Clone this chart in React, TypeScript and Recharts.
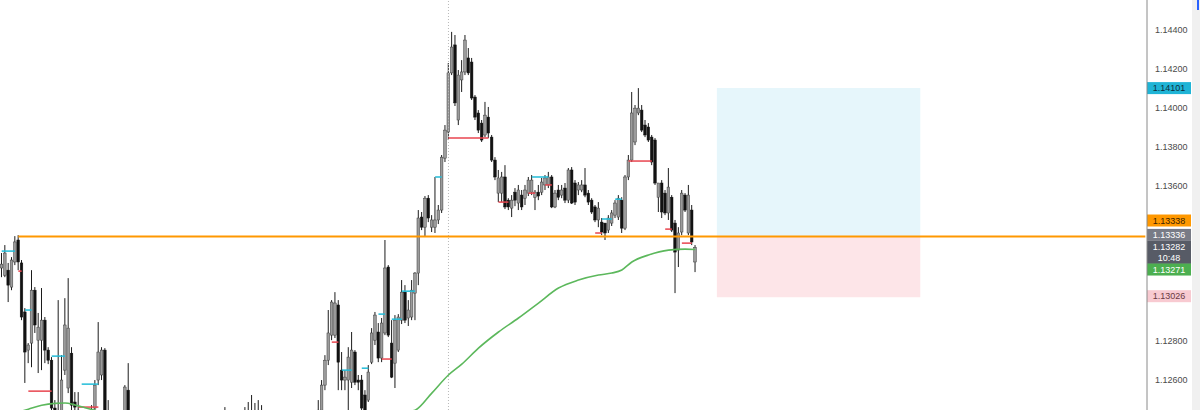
import React from 'react';
import { ComposedChart, Bar, Line, XAxis, YAxis, ReferenceLine, ReferenceArea } from 'recharts';

const OPEN = [
  1.13176,1.13139,1.13165,1.13078,1.13207,1.13320,1.13202,1.12950,1.12754,1.12790,
  1.13062,1.12805,1.12805,1.12908,1.12754,1.12702,1.12456,1.12368,1.12420,1.12651,
  1.12559,1.12738,1.12487,1.12445,1.12394,1.12342,1.12368,1.12404,1.12456,1.12600,
  1.12626,1.12754,1.12435,1.12342,1.12291,1.12317,1.12353,1.12394,1.12548,1.12368,
  1.12301,1.12266,1.12291,1.12240,1.12261,1.12214,1.12188,1.12230,1.12250,1.12214,
  1.12178,1.12137,1.12163,1.12127,1.12147,1.12111,1.12137,1.12178,1.12157,1.12199,
  1.12240,1.12214,1.12250,1.12281,1.12261,1.12291,1.12317,1.12342,1.12368,1.12332,
  1.12353,1.12312,1.12342,1.12384,1.12404,1.12435,1.12394,1.12425,1.12404,1.12363,
  1.12322,1.12291,1.12250,1.12271,1.12230,1.12199,1.12178,1.12157,1.12137,1.12168,
  1.12199,1.12230,1.12261,1.12291,1.12312,1.12342,1.12445,1.12574,1.12702,1.12831,
  1.12831,1.12986,1.12651,1.12600,1.12600,1.12589,1.12744,1.12600,1.12600,1.12523,
  1.12497,1.12692,1.12805,1.12847,1.12713,1.12842,1.13181,1.12790,1.12687,1.12754,
  1.12908,1.13052,1.12919,1.12924,1.13047,1.13150,1.13438,1.13386,1.13535,1.13386,
  1.13386,1.13423,1.13474,1.13741,1.13875,1.14179,1.14323,1.13937,1.14143,1.14184,
  1.14256,1.14235,1.14055,1.13973,1.13921,1.13860,1.13952,1.13849,1.13731,1.13561,
  1.13561,1.13644,1.13525,1.13484,1.13566,1.13510,1.13551,1.13535,1.13561,1.13566,
  1.13540,1.13566,1.13566,1.13603,1.13603,1.13644,1.13490,1.13577,1.13551,1.13587,
  1.13525,1.13680,1.13613,1.13577,1.13577,1.13603,1.13561,1.13525,1.13490,1.13423,
  1.13412,1.13407,1.13371,1.13407,1.13448,1.13438,1.13525,1.13381,1.13644,1.13731,
  1.13824,1.13973,1.13988,1.13911,1.13901,1.13849,1.13834,1.13540,1.13613,1.13561,
  1.13459,1.13540,1.13407,1.13268,1.13361,1.13551,1.13356,1.13474,1.13207,
];
const HIGH = [
  1.13253,1.13294,1.13202,1.13232,1.13340,1.13345,1.13217,1.12970,1.12790,1.13165,
  1.13078,1.12945,1.13073,1.12924,1.12769,1.12718,1.12497,1.13011,1.12728,1.13021,
  1.13124,1.12769,1.12538,1.12538,1.12435,1.12404,1.12445,1.12471,1.12600,1.12898,
  1.12769,1.12764,1.12497,1.12368,1.12353,1.12394,1.12420,1.12574,1.12687,1.12394,
  1.12332,1.12317,1.12312,1.12291,1.12281,1.12240,1.12266,1.12291,1.12271,1.12240,
  1.12199,1.12188,1.12178,1.12168,1.12163,1.12157,1.12199,1.12199,1.12230,1.12266,
  1.12261,1.12281,1.12312,1.12301,1.12332,1.12353,1.12384,1.12461,1.12394,1.12384,
  1.12373,1.12363,1.12404,1.12461,1.12487,1.12523,1.12482,1.12497,1.12471,1.12384,
  1.12342,1.12312,1.12291,1.12291,1.12250,1.12219,1.12199,1.12188,1.12199,1.12230,
  1.12250,1.12281,1.12312,1.12342,1.12363,1.12497,1.12600,1.12728,1.12960,1.13011,
  1.13052,1.13011,1.12744,1.12651,1.12769,1.12847,1.12754,1.12626,1.12626,1.12548,
  1.12677,1.12867,1.12950,1.12893,1.12919,1.13320,1.13191,1.12908,1.12934,1.12939,
  1.13114,1.13088,1.13011,1.13114,1.13155,1.13474,1.13464,1.13546,1.13551,1.13448,
  1.13644,1.13500,1.13757,1.13911,1.14230,1.14390,1.14374,1.14194,1.14245,1.14374,
  1.14307,1.14256,1.14065,1.13988,1.13937,1.14030,1.14004,1.13860,1.13746,1.13680,
  1.13670,1.13705,1.13535,1.13551,1.13587,1.13603,1.13577,1.13603,1.13644,1.13654,
  1.13577,1.13603,1.13639,1.13654,1.13670,1.13654,1.13577,1.13603,1.13603,1.13613,
  1.13690,1.13695,1.13628,1.13618,1.13628,1.13690,1.13577,1.13535,1.13500,1.13515,
  1.13433,1.13407,1.13448,1.13474,1.13525,1.13551,1.13540,1.13654,1.13757,1.14081,
  1.14014,1.14101,1.14014,1.13937,1.13921,1.13860,1.13844,1.13613,1.13628,1.13577,
  1.13690,1.13551,1.13423,1.13386,1.13577,1.13561,1.13603,1.13500,1.13294,
];
const LOW = [
  1.13129,1.13129,1.13001,1.13062,1.13191,1.13165,1.12908,1.12585,1.12687,1.12666,
  1.12842,1.12636,1.12651,1.12687,1.12682,1.12420,1.12291,1.12342,1.12394,1.12626,
  1.12533,1.12435,1.12394,1.12342,1.12291,1.12266,1.12317,1.12353,1.12435,1.12574,
  1.12600,1.12394,1.12317,1.12266,1.12240,1.12281,1.12317,1.12368,1.12342,1.12266,
  1.12230,1.12214,1.12199,1.12188,1.12178,1.12147,1.12157,1.12199,1.12178,1.12137,
  1.12106,1.12096,1.12085,1.12075,1.12060,1.12085,1.12116,1.12127,1.12137,1.12178,
  1.12188,1.12199,1.12230,1.12240,1.12240,1.12271,1.12291,1.12312,1.12301,1.12312,
  1.12281,1.12291,1.12322,1.12353,1.12373,1.12363,1.12368,1.12378,1.12342,1.12291,
  1.12261,1.12214,1.12230,1.12188,1.12163,1.12137,1.12127,1.12096,1.12111,1.12137,
  1.12178,1.12209,1.12240,1.12266,1.12291,1.12291,1.12420,1.12548,1.12677,1.12805,
  1.12816,1.12548,1.12548,1.12548,1.12445,1.12559,1.12574,1.12548,1.12435,1.12435,
  1.12487,1.12682,1.12780,1.12692,1.12692,1.12831,1.12821,1.12610,1.12559,1.12744,
  1.12888,1.12893,1.12878,1.12908,1.12908,1.13088,1.13371,1.13340,1.13412,1.13361,
  1.13356,1.13402,1.13459,1.13721,1.13834,1.14168,1.14009,1.13911,1.14081,1.14168,
  1.14168,1.14040,1.13937,1.13870,1.13824,1.13849,1.13844,1.13721,1.13628,1.13515,
  1.13515,1.13479,1.13474,1.13438,1.13494,1.13474,1.13474,1.13500,1.13546,1.13551,
  1.13474,1.13525,1.13551,1.13577,1.13587,1.13484,1.13484,1.13525,1.13535,1.13510,
  1.13510,1.13505,1.13500,1.13551,1.13566,1.13540,1.13500,1.13454,1.13412,1.13386,
  1.13345,1.13320,1.13356,1.13392,1.13433,1.13423,1.13356,1.13371,1.13628,1.13721,
  1.13808,1.13962,1.13875,1.13849,1.13824,1.13705,1.13603,1.13464,1.13433,1.13448,
  1.13423,1.13361,1.13047,1.13181,1.13345,1.13464,1.13345,1.13294,1.13155,
];
const CLOSE = [
  1.13196,1.13253,1.13088,1.13217,1.13310,1.13207,1.12924,1.12744,1.12780,1.13062,
  1.12883,1.12872,1.12908,1.12754,1.12702,1.12456,1.12368,1.12420,1.12600,1.12883,
  1.12867,1.12471,1.12461,1.12394,1.12342,1.12368,1.12404,1.12435,1.12574,1.12744,
  1.12754,1.12435,1.12342,1.12291,1.12317,1.12353,1.12394,1.12564,1.12368,1.12301,
  1.12266,1.12291,1.12240,1.12261,1.12214,1.12188,1.12230,1.12250,1.12214,1.12178,
  1.12137,1.12163,1.12127,1.12147,1.12111,1.12137,1.12178,1.12157,1.12199,1.12240,
  1.12214,1.12250,1.12281,1.12261,1.12291,1.12317,1.12342,1.12368,1.12332,1.12353,
  1.12312,1.12342,1.12384,1.12404,1.12435,1.12394,1.12425,1.12404,1.12363,1.12322,
  1.12291,1.12250,1.12271,1.12230,1.12199,1.12178,1.12157,1.12137,1.12168,1.12199,
  1.12230,1.12261,1.12291,1.12312,1.12342,1.12445,1.12574,1.12702,1.12842,1.13001,
  1.12996,1.12692,1.12600,1.12615,1.12718,1.12754,1.12589,1.12589,1.12456,1.12445,
  1.12641,1.12842,1.12934,1.12713,1.12893,1.13176,1.12831,1.12615,1.12908,1.12924,
  1.13052,1.12908,1.12960,1.13062,1.13150,1.13433,1.13386,1.13535,1.13433,1.13423,
  1.13423,1.13474,1.13746,1.13885,1.14179,1.14312,1.14025,1.14168,1.14184,1.14348,
  1.14179,1.14050,1.13952,1.13885,1.13834,1.13962,1.13870,1.13731,1.13644,1.13639,
  1.13644,1.13490,1.13490,1.13525,1.13525,1.13577,1.13490,1.13577,1.13628,1.13628,
  1.13566,1.13546,1.13618,1.13639,1.13644,1.13490,1.13561,1.13540,1.13577,1.13525,
  1.13680,1.13510,1.13515,1.13603,1.13603,1.13551,1.13515,1.13464,1.13423,1.13484,
  1.13361,1.13356,1.13433,1.13459,1.13510,1.13535,1.13381,1.13644,1.13731,1.13973,
  1.13998,1.13998,1.13885,1.13860,1.13834,1.13721,1.13613,1.13613,1.13464,1.13459,
  1.13592,1.13371,1.13258,1.13356,1.13561,1.13474,1.13551,1.13310,1.13282,
];

// moving average (green) — sparse readings, joined by the library's curve
const MA_INDEX = [0,4,8,12,16,19,22,25,28,32,38,45,60,80,100,115,121,124,129,134,138,143,149,155,161,167,173,179,183,186,189,194,200,205,208];
const MA_VALUE = [1.12410,1.12430,1.12450,1.12470,1.12480,1.12482,1.12472,1.12458,1.12444,1.12425,1.12395,1.12342,1.12266,1.12240,1.12291,1.12368,1.12435,1.12445,1.12533,1.12626,1.12682,1.12764,1.12847,1.12919,1.12996,1.13073,1.13114,1.13140,1.13150,1.13166,1.13207,1.13243,1.13268,1.13273,1.13271];

// step levels (cyan = up, red = down)
const STEP_FROM  = [0,5,7,8,15,24,23,99,102,108,113,114,117,120,130,134,149,158,159,163,178,180,184,188,199,204];
const STEP_TO    = [4,6,9,15,19,29,29,101,105,110,115,117,120,124,132,146,152,160,164,165,180,183,186,195,201,207];
const STEP_LEVEL = [1.13263,1.13160,1.12960,1.12543,1.12723,1.12579,1.12461,1.12795,1.12651,1.12661,1.12939,1.12708,1.12913,1.13057,1.13644,1.13844,1.13515,1.13561,1.13644,1.13603,1.13356,1.13428,1.13530,1.13726,1.13376,1.13304];
const STEP_KIND  = ['up','dn','up','dn','up','up','dn','dn','up','up','up','dn','up','up','up','dn','dn','dn','up','dn','dn','up','up','dn','dn','dn'];

const Y_TICKS = [1.126, 1.128, 1.136, 1.138, 1.140, 1.142, 1.144];
const Y_DOMAIN = [1.12446, 1.14554];

const HLINE_LEVEL = 1.13338;
const HLINE_START = 5;
const TARGET_LEVEL = 1.14101;
const STOP_LEVEL = 1.13026;
const BOX_FROM = 215;
const BOX_TO = 275;
const CURSOR_INDEX = 134;
const SLOTS = 344;

const TAG_VALUES = [1.14101, 1.13338, 1.13336, 1.13282, 1.13271, 1.13026];
const TAG_SUB = ['', '', '', '10:48', '', ''];

const TAG_STYLE = [
  { bg: '#1fb4d6', fg: '#0d2f3b', dy: 0, h: 12 },
  { bg: '#ff9800', fg: '#3b2200', dy: -16, h: 12 },
  { bg: '#787b86', fg: '#ffffff', dy: -2, h: 12 },
  { bg: '#575b66', fg: '#ffffff', dy: 5, h: 23 },
  { bg: '#4caf50', fg: '#ffffff', dy: 20, h: 12 },
  { bg: '#f8cad1', fg: '#6a3a42', dy: -1, h: 12 },
];

const FONT = '"Liberation Sans", Arial, sans-serif';

const data = Array.from({ length: SLOTS }, (_, i) => {
  const row: any = { i };
  if (i < OPEN.length) {
    row.o = OPEN[i];
    row.h = HIGH[i];
    row.l = LOW[i];
    row.c = CLOSE[i];
    row.range = [LOW[i], HIGH[i]];
  }
  const k = MA_INDEX.indexOf(i);
  if (k >= 0) row.ma = MA_VALUE[k];
  return row;
});

const Candle = (props: any) => {
  const { x, y, width, height, payload } = props;
  if (!payload || payload.o == null || !isFinite(y) || !isFinite(height)) return null;
  const { o, h, l, c } = payload;
  const top = Math.min(y, y + height);
  const hgt = Math.abs(height);
  const span = h - l;
  const k = span > 0 ? hgt / span : 0;
  const yOf = (v: number) => top + (h - v) * k;
  const cx = x + width / 2;
  const bTop = yOf(Math.max(o, c));
  const bBot = yOf(Math.min(o, c));
  const bull = c >= o;
  const bw = 2.6;
  return (
    <g>
      <line x1={cx} x2={cx} y1={top} y2={top + hgt} stroke="#1c1c1c" strokeWidth={1} />
      <rect
        x={cx - bw / 2}
        y={bTop}
        width={bw}
        height={Math.max(bBot - bTop, 0.9)}
        fill={bull ? '#9b9b9b' : '#121212'}
        stroke={bull ? '#3c3c3c' : '#121212'}
        strokeWidth={0.5}
      />
    </g>
  );
};

const PriceTag = (props: any) => {
  const { viewBox, idx } = props;
  if (!viewBox) return null;
  const st = TAG_STYLE[idx];
  const cy = viewBox.y + st.dy;
  const x0 = 1147;
  const w = 44;
  const top = cy - st.h / 2;
  return (
    <g>
      <rect x={x0} y={top} width={w} height={st.h} fill={st.bg} />
      <text x={x0 + w / 2} y={TAG_SUB[idx] ? top + 9 : cy + 3.2} textAnchor="middle" fontSize={9} fontFamily={FONT} fill={st.fg}>
        {TAG_VALUES[idx].toFixed(5)}
      </text>
      {TAG_SUB[idx] ? (
        <text x={x0 + w / 2} y={top + 20} textAnchor="middle" fontSize={9} fontFamily={FONT} fill={st.fg}>
          {TAG_SUB[idx]}
        </text>
      ) : null}
    </g>
  );
};

export default function App() {
  return (
    <div style={{ position: 'absolute', left: 0, top: 0, width: 1200, height: 410, background: '#ffffff', overflow: 'hidden' }}>
      <ComposedChart width={1200} height={410} data={data} margin={{ top: 0, right: 0, bottom: 0, left: 0 }}>
        <XAxis dataKey="i" type="category" hide />
        <YAxis
          orientation="right"
          width={53}
          domain={Y_DOMAIN}
          allowDataOverflow
          ticks={Y_TICKS}
          tickFormatter={(v: number) => v.toFixed(5)}
          tick={{ fontSize: 9, fill: '#4a4a4a', fontFamily: FONT }}
          tickLine={false}
          axisLine={{ stroke: '#8a8a8a' }}
        />
        <ReferenceArea x1={BOX_FROM} x2={BOX_TO} y1={HLINE_LEVEL} y2={TARGET_LEVEL} fill="#e6f6fb" fillOpacity={1} stroke="none" />
        <ReferenceArea x1={BOX_FROM} x2={BOX_TO} y1={STOP_LEVEL} y2={HLINE_LEVEL} fill="#fde5e8" fillOpacity={1} stroke="none" />
        <ReferenceLine x={CURSOR_INDEX} stroke="#b8b8b8" strokeDasharray="1 2" strokeWidth={1} />
        {STEP_FROM.map((s, k) => (
          <ReferenceLine
            key={'st' + k}
            segment={[{ x: s, y: STEP_LEVEL[k] }, { x: STEP_TO[k], y: STEP_LEVEL[k] }]}
            stroke={STEP_KIND[k] === 'up' ? '#22bcd8' : '#e8454f'}
            strokeWidth={1.5}
          />
        ))}
        <Line dataKey="ma" type="monotone" stroke="#5cb85c" strokeWidth={1.6} dot={false} connectNulls isAnimationActive={false} />
        <Bar dataKey="range" barSize={3} shape={<Candle />} isAnimationActive={false} />
        <ReferenceLine
          segment={[{ x: HLINE_START, y: HLINE_LEVEL }, { x: SLOTS - 1, y: HLINE_LEVEL }]}
          stroke="#ff9800"
          strokeWidth={2}
        />
        {TAG_VALUES.map((v, k) => (
          <ReferenceLine key={'tag' + k} y={v} stroke="none" label={<PriceTag idx={k} />} />
        ))}
      </ComposedChart>
      <div style={{ position: 'absolute', left: 1192, top: 0, width: 8, height: 410, background: '#f0f0f0' }} />
      <div style={{ position: 'absolute', left: 1197, top: 0, width: 2, height: 10, background: '#2962ff' }} />
    </div>
  );
}
